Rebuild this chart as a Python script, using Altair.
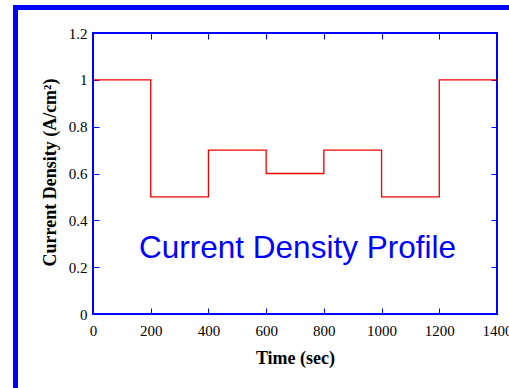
import altair as alt
import pandas as pd

# ---- data ----
time_sec = [0, 200, 400, 600, 800, 1000, 1200, 1400]
current_density = [1.0, 0.5, 0.7, 0.6, 0.7, 0.5, 1.0, 1.0]
x_ticks = [0, 200, 400, 600, 800, 1000, 1200, 1400]
y_ticks = [0, 0.2, 0.4, 0.6, 0.8, 1.0, 1.2]
annotation = ["Current Density Profile"]

df = pd.DataFrame({"t": time_sec, "j": current_density})
ann = pd.DataFrame({"label": annotation})

W, H = 404, 281
BLUE = "#0000ff"
SERIF = "Liberation Serif"

xscale = alt.Scale(domain=[0, 1400], nice=False, zero=False)
yscale = alt.Scale(domain=[0, 1.2], nice=False, zero=False)

common = dict(domain=False, grid=False, tickSize=6, tickColor=BLUE, tickWidth=1,
              offset=-6, labelFont=SERIF, labelFontSize=15, labelColor="black",
              titleFont=SERIF, titleFontSize=18, titleFontWeight="bold",
              titleColor="black")

x_bottom = alt.Axis(orient="bottom", values=x_ticks, format="d", labelPadding=9,
                    labelFlush=False, labelOverlap=False,
                    title="Time (sec)", titleBaseline="alphabetic", titleY=55,
                    **common)
y_left = alt.Axis(orient="left", values=y_ticks, format="~g", labelPadding=6,
                  labelOverlap=False, labelFlush=False,
                  title="Current Density (A/cm²)", titleAngle=270,
                  titleBaseline="alphabetic", titleAlign="center",
                  titleX=-44, titleY=139, **common)
x_top = alt.Axis(orient="top", values=x_ticks, labels=False, title=None, **common)
y_right = alt.Axis(orient="right", values=y_ticks, labels=False, title=None, **common)

line = alt.Chart(df).mark_line(interpolate="step-after", color="#ee0000",
                               strokeWidth=1.3).encode(
    x=alt.X("t:Q", scale=xscale, axis=x_bottom),
    y=alt.Y("j:Q", scale=yscale, axis=y_left),
)

mirror = alt.Chart(df).mark_line(interpolate="step-after", opacity=0).encode(
    x=alt.X("t:Q", scale=xscale, axis=x_top),
    y=alt.Y("j:Q", scale=yscale, axis=y_right),
)

label = alt.Chart(ann).mark_text(font="Liberation Sans", fontSize=31.5,
                                 color=BLUE, align="center",
                                 baseline="alphabetic").encode(
    text="label:N", x=alt.value(W / 2 + 2.5), y=alt.value(224.5))

frame = alt.Chart(ann).mark_rect(fillOpacity=0, stroke=BLUE, strokeWidth=5).encode(
    x=alt.value(-77.5), x2=alt.value(W + 200),
    y=alt.value(-25.5), y2=alt.value(H + 200))

chart = alt.layer(frame, line, mirror, label).properties(
    width=W, height=H,
    padding={"left": 93, "top": 33, "right": 12, "bottom": 74},
    autosize=alt.AutoSizeParams(type="none"),
    background="white",
).configure_view(stroke=BLUE, strokeWidth=2)

chart.save("out.html", embed_options={"renderer": "svg", "actions": False})
